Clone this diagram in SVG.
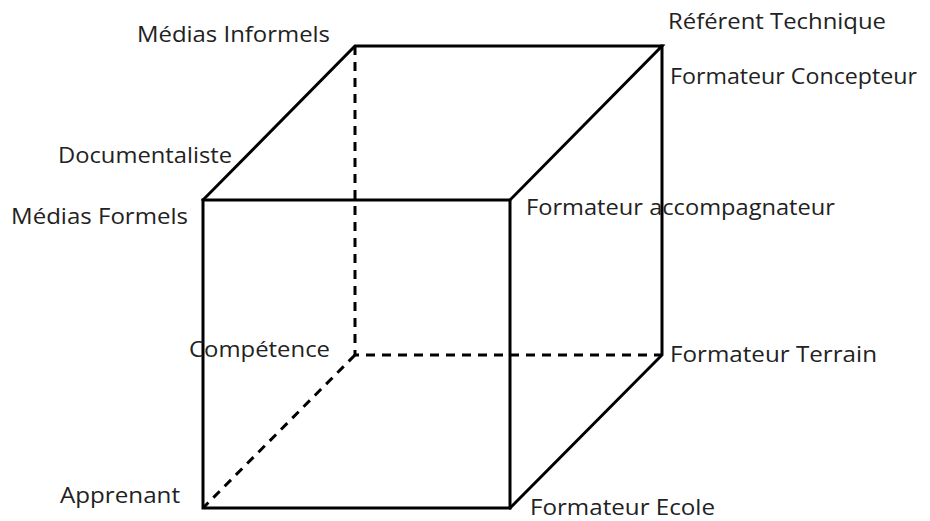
<svg xmlns="http://www.w3.org/2000/svg" width="930" height="521" viewBox="0 0 930 521">
<style>
.e{stroke:#000;stroke-width:3;fill:none;stroke-linecap:square}
.d{stroke:#000;stroke-width:3;fill:none;stroke-dasharray:9,7}
text{font-family:"Open Sans","Noto Sans",sans-serif;font-size:21px;fill:#222}
</style>
<rect width="930" height="521" fill="#fff"/>
<g id="connectors">
<path class="d" d="M355,46 V355 H662"/>
<path class="d" d="M355,355 L203,508"/>
<path class="e" d="M203,200 H510 V508 H203 Z"/>
<path class="e" d="M203,200 L355,46 H662 L510,200"/>
<path class="e" d="M662,46 V355 L510,508"/>
</g>
<g id="medias-informels"><text x="137" y="42" textLength="193" lengthAdjust="spacingAndGlyphs">Médias Informels</text></g>
<g id="referent-technique"><text x="668" y="29" textLength="218" lengthAdjust="spacingAndGlyphs">Référent Technique</text></g>
<g id="formateur-concepteur"><text x="670" y="84" textLength="247" lengthAdjust="spacingAndGlyphs">Formateur Concepteur</text></g>
<g id="documentaliste"><text x="58" y="163" textLength="174" lengthAdjust="spacingAndGlyphs">Documentaliste</text></g>
<g id="medias-formels"><text x="11" y="224" textLength="177" lengthAdjust="spacingAndGlyphs">Médias Formels</text></g>
<g id="formateur-accompagnateur"><text x="526" y="215" textLength="309" lengthAdjust="spacingAndGlyphs">Formateur accompagnateur</text></g>
<g id="competence"><text x="189" y="357" textLength="141" lengthAdjust="spacingAndGlyphs">Compétence</text></g>
<g id="formateur-terrain"><text x="670" y="362" textLength="207" lengthAdjust="spacingAndGlyphs">Formateur Terrain</text></g>
<g id="apprenant"><text x="60" y="503" textLength="120" lengthAdjust="spacingAndGlyphs">Apprenant</text></g>
<g id="formateur-ecole"><text x="530" y="515" textLength="185" lengthAdjust="spacingAndGlyphs">Formateur Ecole</text></g>
</svg>
